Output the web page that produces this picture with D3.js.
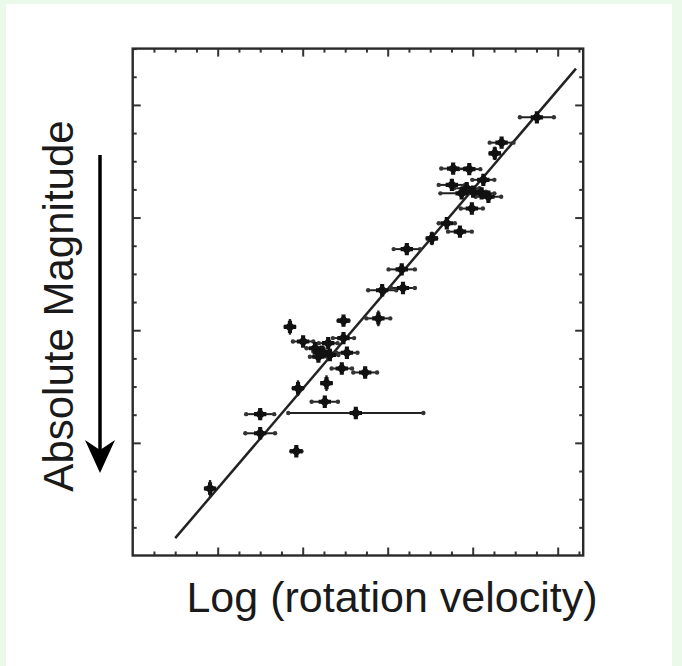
<!DOCTYPE html>
<html>
<head>
<meta charset="utf-8">
<script src="https://cdn.jsdelivr.net/npm/d3@7"></script>
<style>
  body { margin: 0; background: #eaf9ea; }
  svg { display: block; }
</style>
</head>
<body>
<div id="chart"></div>
<script>
// log(rotation velocity), absolute magnitude, and their error half-widths
const logV   = [1.782, 1.900, 1.900, 1.985, 2.125, 1.989, 2.052, 2.056, 1.970, 2.096,
                2.001, 2.029, 2.045, 2.060, 2.064, 2.096, 2.104, 2.037, 2.092, 2.147,
                2.178, 2.187, 2.236, 2.233, 2.245, 2.304, 2.339, 2.370, 2.398, 2.374,
                2.386, 2.401, 2.421, 2.437, 2.351, 2.425, 2.354, 2.392, 2.452, 2.468, 2.551];
const absMag = [-15.19, -16.51, -16.17, -15.85, -16.53, -16.97, -16.73, -17.06, -18.06, -18.17,
                -17.80, -17.68, -17.62, -17.77, -17.56, -17.86, -17.60, -17.53, -17.32, -17.25,
                -18.21, -18.71, -18.75, -19.08, -19.44, -19.63, -19.90, -19.75, -20.16, -20.43,
                -20.52, -20.46, -20.43, -20.37, -20.58, -20.67, -20.87, -20.86, -21.14, -21.33, -21.78];
const errV   = [0.008, 0.033, 0.035, 0.012, 0.159, 0.010, 0.031, 0.010, 0.010, 0.012,
                0.024, 0.020, 0.020, 0.022, 0.020, 0.025, 0.025, 0.020, 0.024, 0.028,
                0.028, 0.033, 0.028, 0.031, 0.031, 0.010, 0.019, 0.028, 0.026, 0.050,
                0.030, 0.030, 0.030, 0.030, 0.031, 0.026, 0.028, 0.026, 0.010, 0.028, 0.040];
const errM   = [0.15, 0.05, 0.05, 0.09, 0.05, 0.14, 0.05, 0.14, 0.14, 0.10,
                0.06, 0.06, 0.06, 0.06, 0.06, 0.06, 0.06, 0.06, 0.06, 0.06,
                0.14, 0.06, 0.06, 0.06, 0.06, 0.12, 0.06, 0.06, 0.06, 0.06,
                0.06, 0.06, 0.06, 0.06, 0.06, 0.06, 0.06, 0.06, 0.12, 0.06, 0.06];

// fitted relation M = a + b * logV, drawn over this range
const fitA = 0.72, fitB = -8.84;
const fitRange = [1.70, 2.643];

const xMajor = [1.8, 2.0, 2.2, 2.4, 2.6];
const yMajor = [-16, -18, -20, -22];

const width = 682, height = 666;
const plotLeft = 132.7, plotRight = 583.2, plotTop = 48.6, plotBottom = 555.5;

const svg = d3.select("#chart").append("svg")
  .attr("width", width)
  .attr("height", height);

// white panel on the pale green page
svg.append("rect")
  .attr("x", 6).attr("y", 4)
  .attr("width", 666).attr("height", 662)
  .attr("fill", "#ffffff");

const x = d3.scaleLinear().domain([1.6, 2.66]).range([plotLeft, plotRight]);
const y = d3.scaleLinear().domain([-14, -23]).range([plotBottom, plotTop]);

const xMinor = d3.range(1.65, 2.66, 0.05).filter(v => !xMajor.some(m => Math.abs(m - v) < 1e-6));
const yMinor = d3.range(-14.5, -23.01, -0.5).filter(v => !yMajor.some(m => Math.abs(m - v) < 1e-6));

const tickColor = "#333";

function addAxis(axisFn, transform, values, size) {
  const g = svg.append("g")
    .attr("transform", transform)
    .call(axisFn.tickValues(values).tickSize(size).tickFormat(""));
  g.select(".domain").remove();
  g.selectAll("line").attr("stroke", tickColor).attr("stroke-width", 2);
}

addAxis(d3.axisBottom(x), `translate(0,${plotBottom})`, xMajor, -8);
addAxis(d3.axisBottom(x), `translate(0,${plotBottom})`, xMinor, -4);
addAxis(d3.axisTop(x), `translate(0,${plotTop})`, xMajor, -8);
addAxis(d3.axisTop(x), `translate(0,${plotTop})`, xMinor, -4);
addAxis(d3.axisLeft(y), `translate(${plotLeft},0)`, yMajor, -8);
addAxis(d3.axisLeft(y), `translate(${plotLeft},0)`, yMinor, -4);
addAxis(d3.axisRight(y), `translate(${plotRight},0)`, yMajor, -8);
addAxis(d3.axisRight(y), `translate(${plotRight},0)`, yMinor, -4);

// frame
svg.append("rect")
  .attr("x", plotLeft).attr("y", plotTop)
  .attr("width", plotRight - plotLeft).attr("height", plotBottom - plotTop)
  .attr("fill", "none")
  .attr("stroke", "#2a2a2a")
  .attr("stroke-width", 2.4);

// fitted line
svg.append("line")
  .attr("x1", x(fitRange[0])).attr("y1", y(fitA + fitB * fitRange[0]))
  .attr("x2", x(fitRange[1])).attr("y2", y(fitA + fitB * fitRange[1]))
  .attr("stroke", "#222")
  .attr("stroke-width", 2.5);

const points = logV.map((v, i) => ({ v: v, m: absMag[i], ev: errV[i], em: errM[i] }));

const pg = svg.append("g");

// horizontal error bars
pg.selectAll("line.ex")
  .data(points)
  .enter().append("line")
  .attr("class", "ex")
  .attr("x1", d => x(d.v - d.ev)).attr("x2", d => x(d.v + d.ev))
  .attr("y1", d => y(d.m)).attr("y2", d => y(d.m))
  .attr("stroke", "#222")
  .attr("stroke-width", 2);

// end caps of horizontal bars
pg.selectAll("circle.cap")
  .data(points.flatMap(d => [[d.v - d.ev, d.m], [d.v + d.ev, d.m]]))
  .enter().append("circle")
  .attr("class", "cap")
  .attr("cx", d => x(d[0])).attr("cy", d => y(d[1]))
  .attr("r", 2.2)
  .attr("fill", "#333");

// vertical error bars
pg.selectAll("line.ey")
  .data(points)
  .enter().append("line")
  .attr("class", "ey")
  .attr("x1", d => x(d.v)).attr("x2", d => x(d.v))
  .attr("y1", d => y(d.m - d.em)).attr("y2", d => y(d.m + d.em))
  .attr("stroke", "#222")
  .attr("stroke-width", 2.4);

// data points: a square diamond with a bold cross through it
pg.selectAll("path.pt")
  .data(points)
  .enter().append("path")
  .attr("class", "pt")
  .attr("transform", d => `translate(${x(d.v)},${y(d.m)}) rotate(45)`)
  .attr("d", d3.symbol(d3.symbolSquare, 62))
  .attr("fill", "#111");

pg.selectAll("path.cr")
  .data(points)
  .enter().append("path")
  .attr("class", "cr")
  .attr("transform", d => `translate(${x(d.v)},${y(d.m)})`)
  .attr("d", d3.symbol(d3.symbolCross, 85))
  .attr("fill", "#111");

// axis titles
svg.append("text")
  .attr("x", 392)
  .attr("y", 612)
  .attr("text-anchor", "middle")
  .style("font-family", "'Liberation Sans', Arial, sans-serif")
  .style("font-size", "43px")
  .attr("fill", "#1a1a1a")
  .text("Log (rotation velocity)");

svg.append("text")
  .attr("transform", "translate(73,306) rotate(-90)")
  .attr("text-anchor", "middle")
  .style("font-family", "'Liberation Sans', Arial, sans-serif")
  .style("font-size", "42px")
  .attr("fill", "#1a1a1a")
  .text("Absolute Magnitude");

// downward arrow beside the y title
svg.append("line")
  .attr("x1", 100).attr("y1", 155)
  .attr("x2", 100).attr("y2", 450)
  .attr("stroke", "#000")
  .attr("stroke-width", 3.5);

svg.append("path")
  .attr("d", "M85,440 L100,473 L115,440 L100,450 Z")
  .attr("fill", "#000");
</script>
</body>
</html>
